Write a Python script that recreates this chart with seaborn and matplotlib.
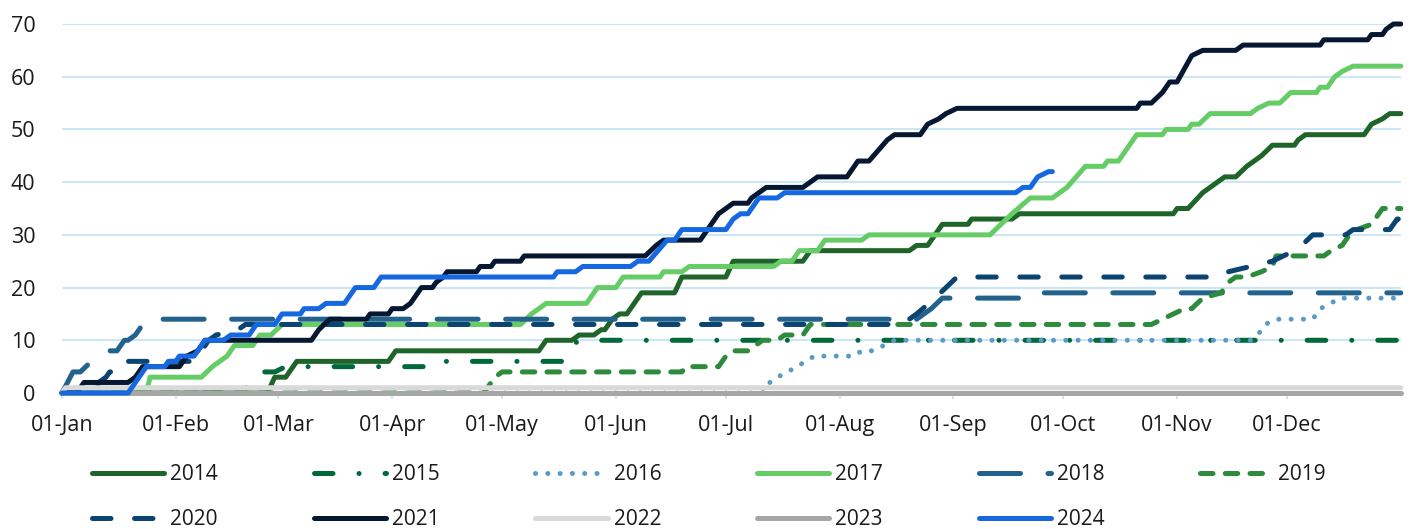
import pandas as pd
import matplotlib.pyplot as plt
import seaborn as sns

# cumulative count by day of year as (day, value) vertices
days_2014 = [0, 56, 58, 61, 64, 89, 91, 130, 132, 139, 141, 145, 147, 148, 150, 152, 154, 157, 158, 167, 169,
             181, 183, 202, 204, 231, 233, 236, 239, 240, 247, 248, 259, 261, 303, 304, 307, 311, 315, 317, 320,
             323, 325, 327, 330, 336, 337, 339, 355, 357, 360, 362, 365]
vals_2014 = [0, 0, 3, 3, 6, 6, 8, 8, 10, 10, 11, 11, 12, 12, 14, 15, 15, 18, 19, 19, 22,
             22, 25, 25, 27, 27, 28, 28, 31, 32, 32, 33, 33, 34, 34, 35, 35, 38, 40, 41, 41,
             43, 44, 45, 47, 47, 48, 49, 49, 51, 52, 53, 53]

days_2015 = [0, 45, 47, 51, 53, 55, 58, 61, 100, 101, 137, 139, 141, 365]
vals_2015 = [0, 0, 1, 1, 3, 4, 4, 5, 5, 6, 6, 9, 10, 10]

days_2016 = [0, 191, 193, 195, 198, 200, 203, 205, 216, 218, 221, 224, 227, 324, 326, 328, 331, 341, 343, 346,
             348, 365]
vals_2016 = [0, 0, 2, 3, 4, 5, 6, 7, 7, 8, 8, 9, 10, 10, 11, 13, 14, 14, 16, 17,
             18, 18]

days_2017 = [0, 23, 24, 38, 41, 43, 45, 47, 52, 54, 57, 60, 125, 128, 130, 132, 143, 146, 151, 153, 163, 164,
             169, 171, 194, 196, 199, 201, 206, 208, 218, 220, 253, 259, 264, 270, 274, 279, 284, 285, 288,
             293, 300, 301, 307, 308, 310, 313, 324, 326, 329, 332, 335, 342, 343, 345, 347, 349, 352, 365]
vals_2017 = [0, 0, 3, 3, 5, 6, 7, 9, 9, 11, 11, 13, 13, 15, 16, 17, 17, 20, 20, 22, 22, 23,
             23, 24, 24, 25, 25, 27, 27, 29, 29, 30, 30, 34, 37, 37, 39, 43, 43, 44, 44,
             49, 49, 50, 50, 51, 51, 53, 53, 54, 55, 55, 57, 57, 58, 58, 60, 61, 62, 62]

days_2018 = [0, 3, 5, 8, 10, 12, 15, 17, 18, 20, 23, 233, 237, 240, 261, 263, 365]
vals_2018 = [0, 4, 4, 6, 7, 8, 8, 10, 10, 11, 14, 14, 16, 18, 18, 19, 19]

days_2019 = [0, 115, 118, 120, 169, 170, 179, 181, 183, 187, 189, 191, 195, 197, 202, 204, 297, 300, 303, 306,
             308, 311, 316, 318, 320, 323, 327, 330, 331, 344, 346, 349, 351, 353, 357, 360, 365]
vals_2019 = [0, 0, 3, 4, 4, 5, 5, 7, 8, 8, 9, 10, 10, 11, 11, 13, 13, 14, 15, 16,
             16, 18, 19, 21, 22, 22, 23, 24, 26, 26, 27, 28, 30, 31, 32, 35, 35]

days_2020 = [0, 9, 10, 12, 13, 16, 18, 36, 40, 42, 48, 50, 229, 233, 238, 241, 244, 315, 318, 324, 330, 333,
             336, 338, 341, 350, 352, 362, 364, 365]
vals_2020 = [0, 0, 2, 3, 4, 4, 6, 6, 10, 11, 12, 13, 13, 15, 18, 20, 22, 22, 23, 24, 25, 26,
             27, 28, 30, 30, 31, 31, 33, 33]

days_2021 = [0, 4, 6, 18, 20, 22, 32, 34, 37, 39, 68, 70, 73, 83, 84, 89, 90, 93, 95, 98, 101, 102, 104, 105,
             113, 114, 117, 118, 125, 126, 159, 162, 164, 174, 175, 179, 183, 187, 188, 190, 192, 202, 204,
             206, 214, 215, 217, 220, 225, 227, 234, 236, 239, 241, 244, 293, 294, 297, 300, 302, 304, 308,
             311, 320, 322, 343, 344, 356, 357, 360, 361, 363, 365]
vals_2021 = [0, 0, 2, 2, 3, 5, 5, 7, 8, 10, 10, 12, 14, 14, 15, 15, 16, 16, 17, 20, 20, 21, 22, 23,
             23, 24, 24, 25, 25, 26, 26, 28, 29, 29, 30, 34, 36, 36, 37, 38, 39, 39, 40,
             41, 41, 42, 44, 44, 48, 49, 49, 51, 52, 53, 54, 54, 55, 55, 57, 59, 59, 64,
             65, 65, 66, 66, 67, 67, 68, 68, 69, 70, 70]

days_2022 = [0, 1, 365]
vals_2022 = [0, 1, 1]

days_2023 = [0, 365]
vals_2023 = [0, 0]

days_2024 = [0, 18, 20, 21, 23, 28, 29, 31, 32, 36, 38, 39, 44, 46, 51, 53, 58, 60, 65, 66, 70, 72, 77, 80, 85,
             87, 134, 135, 140, 142, 155, 157, 160, 165, 167, 169, 181, 183, 185, 187, 190, 195, 197, 260,
             262, 264, 266, 269, 270]
vals_2024 = [0, 0, 2, 3, 5, 5, 6, 6, 7, 7, 9, 10, 10, 11, 11, 13, 13, 15, 15, 16, 16, 17, 17, 20, 20,
             22, 22, 23, 23, 24, 24, 25, 25, 29, 29, 31, 31, 33, 34, 34, 37, 37, 38, 38,
             39, 39, 41, 42, 42]

years = ['2014', '2015', '2016', '2017', '2018', '2019', '2020', '2021', '2022', '2023', '2024']
series = {
    '2014': (days_2014, vals_2014), '2015': (days_2015, vals_2015), '2016': (days_2016, vals_2016),
    '2017': (days_2017, vals_2017), '2018': (days_2018, vals_2018), '2019': (days_2019, vals_2019),
    '2020': (days_2020, vals_2020), '2021': (days_2021, vals_2021), '2022': (days_2022, vals_2022),
    '2023': (days_2023, vals_2023), '2024': (days_2024, vals_2024),
}

month_days = [0, 31, 59, 90, 120, 151, 181, 212, 243, 273, 304, 334]
month_labels = ['01-Jan', '01-Feb', '01-Mar', '01-Apr', '01-May', '01-Jun',
                '01-Jul', '01-Aug', '01-Sep', '01-Oct', '01-Nov', '01-Dec']

colors = {
    '2014': '#1f6428', '2015': '#00693a', '2016': '#5b9ac6', '2017': '#66cc66',
    '2018': '#22628c', '2019': '#2e8b3c', '2020': '#0b4471', '2021': '#051731',
    '2022': '#d9d9d9', '2023': '#a6a6a6', '2024': '#1668e0',
}
# dash patterns in units of line width
styles = {
    '2015': (0, (3.7, 5.2, 0.01, 5.2)),
    '2016': (0, (0.01, 2.45)),
    '2018': (0, (8.2, 5.5)),
    '2019': (0, (2.5, 2.45)),
    '2020': (0, (3.7, 4.7)),
}

sns.set_theme(style='white')
plt.rcParams['font.family'] = ['Open Sans', 'DejaVu Sans']

fig = plt.figure(figsize=(14.11, 5.29), dpi=100)
ax = fig.add_axes([62 / 1411, 136 / 529, 1338.8 / 1411, 369 / 529])

for yr in years:
    d, v = series[yr]
    df = pd.DataFrame({'day': d, 'count': v})
    sns.lineplot(data=df, x='day', y='count', ax=ax, color=colors[yr], linewidth=3.6,
                 linestyle=styles.get(yr, '-'), estimator=None, sort=False,
                 solid_capstyle='round', dash_capstyle='round', clip_on=False, label=yr)

ax.set_xlim(0, 365)
ax.set_ylim(0, 70)
ax.set_yticks(range(0, 71, 10))
ax.set_xticks(month_days)
ax.set_xticklabels(month_labels)
ax.set_xlabel('')
ax.set_ylabel('')
for s in ax.spines.values():
    s.set_visible(False)
ax.set_axisbelow(True)
ax.yaxis.grid(True, color='#cde6f3', linewidth=1.5)
ax.xaxis.grid(False)
ax.tick_params(axis='y', length=0, pad=19, labelsize=15.5, labelcolor='#1a1a1a')
ax.tick_params(axis='x', length=4.5, width=1.5, color='#cde6f3', pad=11,
               labelsize=15.5, labelcolor='#1a1a1a', bottom=True)

handles, labels = ax.get_legend_handles_labels()
lookup = dict(zip(labels, handles))
order = ['2014', '2020', '2015', '2021', '2016', '2022', '2017', '2023', '2018', '2024', '2019']
ax.legend([lookup[k] for k in order], order, loc='upper left',
          bbox_to_anchor=(92 / 1411, 1 - 464 / 529), bbox_transform=fig.transFigure,
          ncol=6, frameon=False, fontsize=15, handlelength=3.46, handletextpad=0.29,
          columnspacing=4.6, labelspacing=1.16, borderpad=0, borderaxespad=0,
          labelcolor='#1a1a1a')

fig.savefig('out.png', dpi=100)
